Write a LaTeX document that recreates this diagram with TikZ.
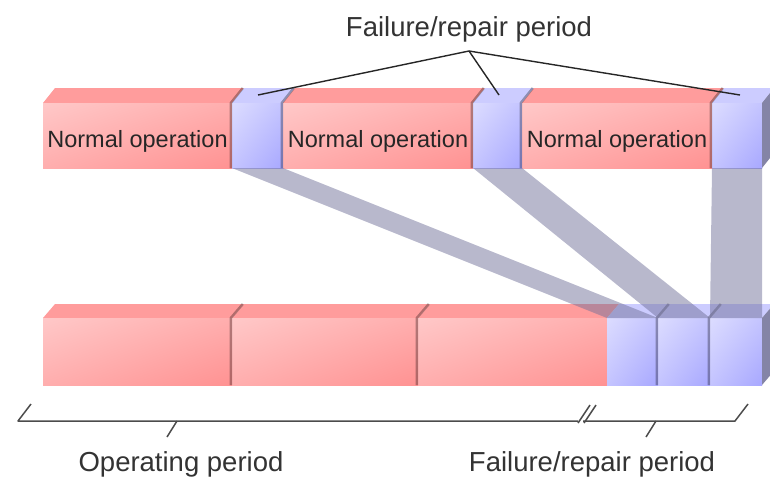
\documentclass[tikz,border=0pt]{standalone}
\usepackage{fontspec}
\setmainfont{Liberation Sans}
\usetikzlibrary{shadings}
\begin{document}
\begin{tikzpicture}[x=1pt,y=-1pt,
  lbl/.style={font=\fontsize{27.5}{33}\selectfont, text=black!80, inner sep=0pt, anchor=base},
  oplbl/.style={font=\fontsize{23.5}{28}\selectfont, text=black!85, inner sep=0pt, anchor=base},
  leader/.style={draw=black!85, line width=1.4pt},
  brace/.style={draw=black!70, line width=1.5pt, line join=round},
  band/.style={fill=bandc, fill opacity=0.5},
  edge/.style={draw=black, draw opacity=0.3, line width=2.5pt}]
\definecolor{redtop}{HTML}{FF9C9C}
\definecolor{redA}{HTML}{FFC8C8}
\definecolor{redM}{HTML}{FFAEAE}
\definecolor{redB}{HTML}{FF9292}
\definecolor{bluetop}{HTML}{CCCCFF}
\definecolor{blueA}{HTML}{DCDCFF}
\definecolor{blueM}{HTML}{C4C4FF}
\definecolor{blueB}{HTML}{A8A8FF}
\definecolor{sidec}{HTML}{8484A6}
\definecolor{bandc}{HTML}{72729A}
\useasboundingbox (0,0) rectangle (770,477);
\clip (0,0) rectangle (770,477);

% one extruded block: #1,#2 left/right x, #3 front top, #4 bottom, #5 back top, #6 colour family
\newcommand\extblock[6]{%
  \fill[#6top] (#1,#3) -- (#1+12,#5) -- (#2+12,#5) -- (#2,#3) -- cycle;
  \shade[upper left=#6A, upper right=#6M, lower left=#6M, lower right=#6B]
    (#1,#3) rectangle (#2,#4);}
\newcommand\blockedge[4]{% right-hand edge shading of a block
  \draw[edge] (#1-1.2,#3) -- (#1-1.2,#2) -- (#1+10.8,#4);}

% upper row: operation with interruptions
\extblock{43}{232}{103}{168}{88}{red}
\extblock{232}{283}{103}{168}{88}{blue}
\extblock{283}{473}{103}{168}{88}{red}
\extblock{473}{522}{103}{168}{88}{blue}
\extblock{522}{712}{103}{168}{88}{red}
\extblock{712}{762}{103}{168}{88}{blue}
\fill[sidec] (762,103) -- (774,88) -- (774,153) -- (762,168) -- cycle;
\foreach \xe in {232,283,473,522,712} {\blockedge{\xe}{103}{168}{88}}

% lower row: the same periods regrouped
\extblock{43}{232}{318}{385}{304}{red}
\extblock{232}{418}{318}{385}{304}{red}
\extblock{418}{607}{318}{385}{304}{red}
\extblock{607}{658}{318}{385}{304}{blue}
\extblock{658}{710}{318}{385}{304}{blue}
\extblock{710}{762}{318}{385}{304}{blue}
\fill[sidec] (762,318) -- (774,304) -- (774,371) -- (762,385) -- cycle;
\foreach \xe in {232,418,658,710} {\blockedge{\xe}{318}{385}{304}}

% bands carrying each failure/repair period down
\coordinate (fa1) at (232,168); \coordinate (fb1) at (283,168);
\coordinate (fa2) at (473,168); \coordinate (fb2) at (522,168);
\coordinate (fa3) at (712,168); \coordinate (fb3) at (762,168);
\coordinate (ga1) at (607,318); \coordinate (gb1) at (658,318);
\coordinate (ga2) at (658,318); \coordinate (gb2) at (710,318);
\coordinate (ga3) at (710,318); \coordinate (gb3) at (762,318);
\fill[band] (fa1) -- (fb1) -- (gb1) -- (ga1) -- cycle;
\fill[band] (fa2) -- (fb2) -- (gb2) -- (ga2) -- cycle;
\fill[band] (fa3) -- (fb3) -- (gb3) -- (ga3) -- cycle;

% labels in the upper row
\node[oplbl] (op1) at (137.5,147) {Normal operation};
\node[oplbl] (op2) at (378,147) {Normal operation};
\node[oplbl] (op3) at (617,147) {Normal operation};

% failure/repair callout
\node[lbl] (frtop) at (469,36) {Failure/repair period};
\coordinate (apex) at (469,51);
\coordinate (p1) at (258,95);
\coordinate (p2) at (499,95);
\coordinate (p3) at (740,95);
\draw[leader] (p1) -- (apex) -- (p3);
\draw[leader] (apex) -- (p2);

% brackets under the lower row
\coordinate (l0) at (31,404); \coordinate (l1) at (18,421);
\coordinate (l2) at (578,421);
\coordinate (r1) at (583,421); \coordinate (r2) at (735,421);
\coordinate (r3) at (748,404);
\draw[brace] (l0) -- (l1) -- (l2);
\draw[brace] (r1) -- (r2) -- (r3);
\coordinate (s1a) at (578,423); \coordinate (s1b) at (590,405);
\coordinate (s2a) at (584,423); \coordinate (s2b) at (596,405);
\draw[brace] (s1a) -- (s1b);
\draw[brace] (s2a) -- (s2b);
\coordinate (t1a) at (177,421); \coordinate (t1b) at (167,437);
\coordinate (t2a) at (656,421); \coordinate (t2b) at (646,437);
\draw[brace] (t1a) -- (t1b);
\draw[brace] (t2a) -- (t2b);

\node[lbl] (oplabel) at (181,471) {Operating period};
\node[lbl] (frlabel) at (592,471) {Failure/repair period};
\end{tikzpicture}
\end{document}
